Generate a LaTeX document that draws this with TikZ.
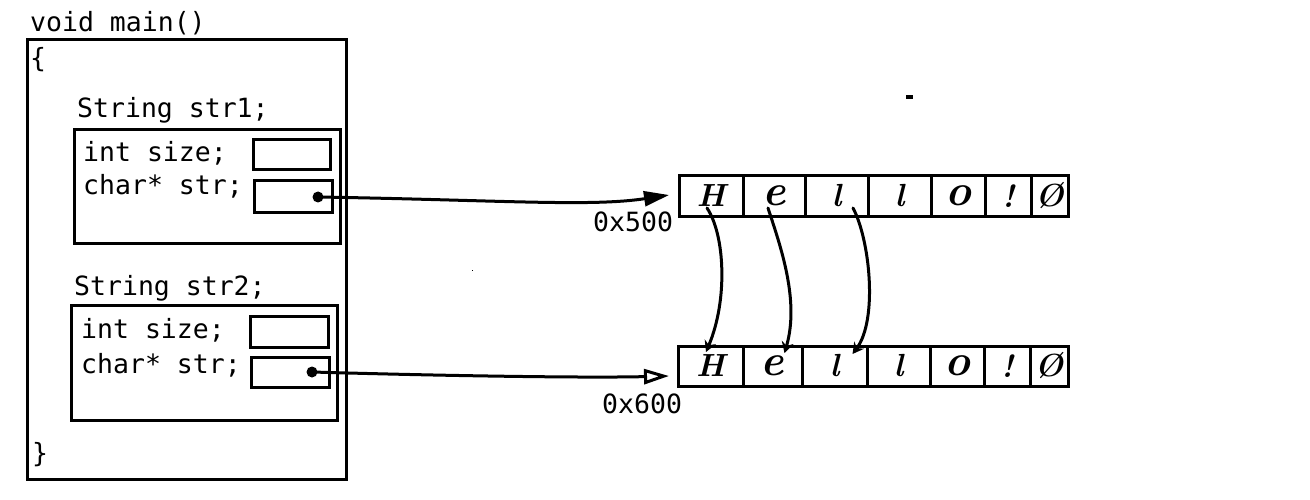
\documentclass[tikz,border=0pt]{standalone}
\usepackage{fontspec}
\setmonofont{DejaVu Sans Mono}
\usetikzlibrary{arrows.meta,calc}
\begin{document}
\begin{tikzpicture}[x=1pt,y=-1pt,
  box/.style={draw, line width=3pt, inner sep=0pt, outer sep=0pt},
  code/.style={font=\ttfamily\fontsize{26.5}{30}\selectfont, anchor=base west, inner sep=0pt},
  cellbox/.style={draw, line width=3pt, minimum height=40pt, inner sep=0pt, outer sep=0pt,
    font=\rmfamily\bfseries\itshape\fontsize{32}{32}\selectfont},
  lower/.style={font=\rmfamily\bfseries\itshape\fontsize{44}{44}\selectfont},
  dotnode/.style={circle, fill, inner sep=0pt, minimum size=11pt},
  ptr/.style={line width=3pt, line cap=round},
  ptrtip/.style={-{Triangle[length=25pt,width=15pt]}},
  ptrtipopen/.style={-{Triangle[open,length=25pt,width=15pt]}},
  copyarrow/.style={line width=3pt, line cap=round, -{Stealth[length=11pt,width=12pt]}}
]
\useasboundingbox (0,0) rectangle (1310,500);

% outer function box
\node[code] (vm) at (30,32) {void main()};
\node[box, minimum width=319pt, minimum height=439pt] (outer) at (186.5,259.5) {};
\node[code] (ob) at (30,68) {\{};
\node[code] (cb) at (32,462) {\}};

% str1
\node[code] (s1lbl) at (77,118) {String str1;};
\node[box, minimum width=266pt, minimum height=113pt] (in1) at (207,186.5) {};
\node[code] (sz1) at (83,162) {int size;};
\node[code] (cs1) at (83,195) {char* str;};
\node[box, minimum width=77pt, minimum height=30pt] (v1) at (291.5,155) {};
\node[box, minimum width=78pt, minimum height=31pt] (p1box) at (293,196.5) {};
\node[dotnode] (d1) at (318,197) {};

% str2
\node[code] (s2lbl) at (74,295) {String str2;};
\node[box, minimum width=266pt, minimum height=115pt] (in2) at (204,362.5) {};
\node[code] (sz2) at (81,338) {int size;};
\node[code] (cs2) at (81,373) {char* str;};
\node[box, minimum width=78pt, minimum height=31pt] (v2) at (289,331.5) {};
\node[box, minimum width=78pt, minimum height=30pt] (p2box) at (290,372) {};
\node[dotnode] (d2) at (312,372) {};

% top array
\node[cellbox, minimum width=64pt] (t1) at (711,196) {H};
\node[cellbox, minimum width=62pt, lower] (t2) at (774,196) {e};
\node[cellbox, minimum width=63pt] (t3) at (836.5,196) {l};
\node[cellbox, minimum width=63pt] (t4) at (899.5,196) {l};
\node[cellbox, minimum width=54pt, lower] (t5) at (958,196) {o};
\node[cellbox, minimum width=46pt] (t6) at (1008,196) {!};
\node[cellbox, minimum width=37pt] (t7) at (1049.5,196) {Ø};
\node[code, anchor=base west] (a1) at (593,231) {0x500};

% bottom array
\node[cellbox, minimum width=65pt] (b1) at (710.5,366) {H};
\node[cellbox, minimum width=59pt, lower] (b2) at (772.5,366) {e};
\node[cellbox, minimum width=65pt] (b3) at (834.5,366) {l};
\node[cellbox, minimum width=63pt] (b4) at (898.5,366) {l};
\node[cellbox, minimum width=54pt, lower] (b5) at (957,366) {o};
\node[cellbox, minimum width=46pt] (b6) at (1007,366) {!};
\node[cellbox, minimum width=38pt] (b7) at (1049,366) {Ø};
\node[code, anchor=base west] (a2) at (602,413) {0x600};

% pointer connectors
\coordinate (p1) at ($(t1.west)+(-10,-1)$);
\coordinate (p2) at ($(b1.west)+(-9,10)$);
\draw[ptr, ptrtip] (d1.center) .. controls (500,200) and (590,207) .. (p1);
\draw[ptr, ptrtipopen] (d2.center) .. controls (450,376) and (590,378) .. (p2);

% copy arrows
\coordinate (c1s) at ($(t1.center)+(-4,12)$);
\coordinate (c2s) at ($(t2.center)+(-6,12)$);
\coordinate (c3s) at ($(t3.center)+(16.5,12)$);
\coordinate (c1e) at ($(b1.center)+(-4.5,-14)$);
\coordinate (c2e) at ($(b2.center)+(12,-13)$);
\coordinate (c3e) at ($(b3.center)+(18,-12)$);
\draw[copyarrow] (c1s) .. controls (725,235) and (728,300) .. (c1e);
\draw[copyarrow] (c2s) .. controls (780,245) and (800,300) .. (c2e);
\draw[copyarrow] (c3s) .. controls (870,240) and (878,320) .. (c3e);

% stray marks
\fill (906,95) rectangle (913,99);
\fill (471.5,269.5) rectangle (472.5,270.5);
\end{tikzpicture}
\end{document}
